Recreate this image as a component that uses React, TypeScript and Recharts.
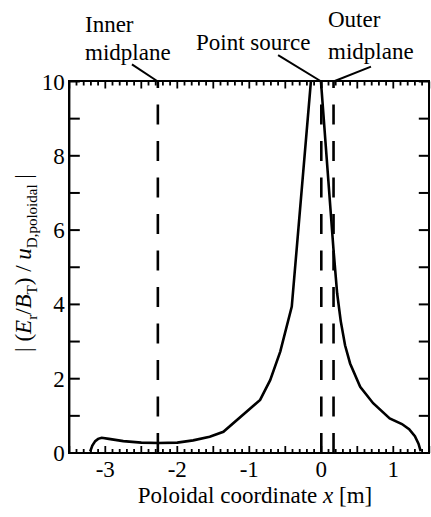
import { LineChart, Line, XAxis, YAxis, ReferenceLine } from 'recharts';

// |(Er/BT)/uD,poloidal| along the poloidal coordinate
const xPos = [
  -3.21, -3.18, -3.14, -3.1, -3.05, -2.95, -2.75, -2.5, -2.26, -2.0, -1.78, -1.55, -1.36,
  -0.85, -0.71, -0.57, -0.41, -0.07, 0.17, 0.22, 0.27, 0.33, 0.4, 0.54, 0.72, 0.95, 1.12,
  1.22, 1.3, 1.35, 1.38,
];
const ratio = [
  0.04, 0.2, 0.32, 0.38, 0.41, 0.38, 0.32, 0.28, 0.27, 0.28, 0.34, 0.44, 0.57,
  1.43, 1.96, 2.73, 3.94, 11.7, 5.46, 4.3, 3.55, 2.9, 2.41, 1.78, 1.34, 0.93, 0.78,
  0.64, 0.45, 0.25, 0.05,
];

const xLabelTicks = [-3, -2, -1, 0, 1];
const xLabels = ['-3', '-2', '-1', '0', '1'];
const yTicks = [0, 1, 2, 3, 4, 5, 6, 7, 8, 9, 10];
const yLabels = ['0', '', '2', '', '4', '', '6', '', '8', '', '10'];

// dashed markers: inner midplane, point source, outer midplane
const markerX = [-2.27, 0.0, 0.17];
const leaderFrom = [
  { x: -2.63, y: 10.46 },
  { x: -0.6, y: 10.71 },
  { x: 0.69, y: 10.4 },
];

const data = xPos.map((x, i) => ({ x, v: ratio[i] }));

// minor ticks every 0.1 m, longer every 0.5 m
const xMinor = Array.from({ length: 51 }, (_, i) => Math.round((-3.5 + i * 0.1) * 10) / 10);

const W = 431;
const H = 517;
const M = { top: 81.5, right: 1.7, bottom: 0, left: 0 };
const AXIS_W = 69.3;
const AXIS_H = 64;
const FONT = 'Liberation Serif';
const OFF = 8; // tickSize 6 + tickMargin 2: where recharts puts the tick props
const near = (a: number, b: number) => Math.abs(a - b) < 1e-6;
const isHalf = (v: number) => near(v * 2, Math.round(v * 2));

// inward tick on the bottom axis and its twin on the top edge
const BottomTick = (props: any) => {
  const { x, payload } = props;
  const y = props.y - OFF;
  const v = payload.value;
  const idx = xLabelTicks.findIndex((t) => near(t, v));
  const len = isHalf(v) ? 7 : 4;
  return (
    <g>
      <line x1={x} x2={x} y1={y} y2={y - len} stroke="#000" strokeWidth={1.8} />
      <line x1={x} x2={x} y1={M.top} y2={M.top + len} stroke="#000" strokeWidth={1.8} />
      {idx >= 0 && (
        <text x={x} y={y + 24} textAnchor="middle" fontFamily={FONT} fontSize={23} fill="#000">
          {xLabels[idx]}
        </text>
      )}
    </g>
  );
};

// inward tick on the left axis and its twin on the right edge
const LeftTick = (props: any) => {
  const { y, payload } = props;
  const x = props.x + OFF;
  const xr = W - M.right;
  const idx = yTicks.indexOf(payload.value);
  return (
    <g>
      <line x1={x} x2={x + 10.5} y1={y} y2={y} stroke="#000" strokeWidth={2} />
      <line x1={xr} x2={xr - 10.5} y1={y} y2={y} stroke="#000" strokeWidth={2} />
      <text x={x - 4.5} y={y + 8} textAnchor="end" fontFamily={FONT} fontSize={23} fill="#000">
        {yLabels[idx]}
      </text>
    </g>
  );
};

const txt = (left: number, top: number): React.CSSProperties => ({
  position: 'absolute',
  left,
  top,
  fontFamily: FONT,
  fontSize: 23,
  lineHeight: '23px',
  color: '#000',
  whiteSpace: 'nowrap',
});

export default function App() {
  const bw = 2.2;
  return (
    <div style={{ position: 'absolute', left: 0, top: 0, width: W, height: H, background: '#fff' }}>
      <LineChart width={W} height={H} data={data} margin={M}>
        <XAxis
          dataKey="x"
          type="number"
          domain={[-3.5, 1.5]}
          ticks={xMinor}
          interval={0}
          allowDataOverflow
          height={AXIS_H}
          tickSize={6}
          tickMargin={2}
          tickLine={false}
          stroke="#000"
          strokeWidth={2.2}
          tick={<BottomTick />}
        />
        <YAxis
          type="number"
          domain={[0, 10]}
          ticks={yTicks}
          interval={0}
          allowDataOverflow
          width={AXIS_W}
          tickSize={6}
          tickMargin={2}
          tickLine={false}
          stroke="#000"
          strokeWidth={2.2}
          tick={<LeftTick />}
        />
        {markerX.map((mx) => (
          <ReferenceLine key={'d' + mx} x={mx} stroke="#000" strokeWidth={2.6} strokeDasharray="20 16.5" />
        ))}
        {markerX.map((mx, i) => (
          <ReferenceLine
            key={'l' + mx}
            segment={[leaderFrom[i], { x: mx, y: 10 }]}
            stroke="#000"
            strokeWidth={2}
            ifOverflow="visible"
          />
        ))}
        <Line type="linear" dataKey="v" stroke="#000" strokeWidth={2.6} dot={false} isAnimationActive={false} />
      </LineChart>
      {/* plot frame */}
      <div
        style={{
          position: 'absolute',
          left: AXIS_W - bw / 2,
          top: M.top - bw / 2,
          width: W - M.right - AXIS_W + bw,
          height: H - AXIS_H - M.top + bw,
          border: `${bw}px solid #000`,
          boxSizing: 'border-box',
          pointerEvents: 'none',
        }}
      />
      <div style={txt(85, 12.5)}>Inner</div>
      <div style={txt(85, 40.8)}>midplane</div>
      <div style={txt(196, 30.8)}>Point source</div>
      <div style={txt(328, 7.8)}>Outer</div>
      <div style={txt(328, 40.3)}>midplane</div>
      <div style={{ ...txt(125, 484), width: 260, textAlign: 'center' }}>
        Poloidal coordinate <i>x</i> [m]
      </div>
      <div
        style={{
          ...txt(24 - 150, 263 - 12),
          width: 300,
          textAlign: 'center',
          transform: 'rotate(-90deg)',
          transformOrigin: '150px 12px',
        }}
      >
        | (<i>E</i>
        <sub style={{ fontSize: 15 }}>r</sub>/<i>B</i>
        <sub style={{ fontSize: 15 }}>T</sub>) / <i>u</i>
        <sub style={{ fontSize: 15 }}>D,poloidal</sub> |
      </div>
    </div>
  );
}
